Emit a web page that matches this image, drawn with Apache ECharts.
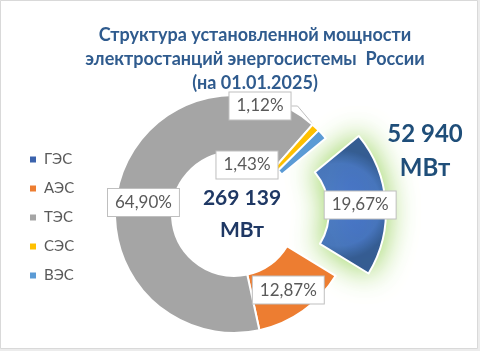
<!DOCTYPE html>
<html>
<head>
<meta charset="utf-8">
<script src="https://cdn.jsdelivr.net/npm/echarts@6/dist/echarts.min.js"></script>
<style>
  html, body { margin: 0; padding: 0; background: #ececec; }
  #main { width: 480px; height: 351px; }
</style>
</head>
<body>
<div id="main"></div>
<script>
// данные диаграммы
const categories = ['ГЭС', 'АЭС', 'ТЭС', 'СЭС', 'ВЭС'];
const shares = [19.67, 12.87, 64.90, 1.12, 1.43];   // доли, %
const colors = ['#4472C4', '#ED7D31', '#A5A5A5', '#FFC000', '#5B9BD5'];
const totalText = ['269 139', 'МВт'];
const gesText = ['52 940', 'МВт'];

const font = 'Lato, "Noto Sans", sans-serif';
const chart = echarts.init(document.getElementById('main'), null, { renderer: 'canvas' });

const pieData = categories.map((name, i) => {
  let item = {
    name: name,
    value: shares[i],
    itemStyle: { color: colors[i] }
  };
  if (i === 0) {
    // ГЭС выдвинут и подсвечен
    item.selected = true;
    item.itemStyle.color = {
      type: 'radial', x: 0.35, y: 0.5, r: 0.75,
      colorStops: [{ offset: 0, color: '#4a78cc' }, { offset: 0.75, color: '#4471c2' }, { offset: 1, color: '#2f5597' }]
    };
    item.itemStyle.shadowBlur = 30;
    item.itemStyle.shadowColor = 'rgba(146, 208, 80, 1)';
  }
  if (i >= 3) {
    item.label = { position: 'outside' };
    item.labelLine = { show: true, length: 6, length2: 6, lineStyle: { color: '#bfbfbf', width: 1 } };
  }
  return item;
});

const option = {
  backgroundColor: '#ececec',
  animation: false,
  graphic: [{
    type: 'rect',
    z: -10,
    silent: true,
    shape: { x: 0.5, y: 0.5, width: 477, height: 348 },
    style: { fill: '#fff', stroke: '#d9d9d9', lineWidth: 1 }
  }],
  title: [
    {
      text: 'Структура установленной мощности\nэлектростанций энергосистемы  России\n(на 01.01.2025)',
      left: 250, top: 18, textAlign: 'center',
      textStyle: { fontFamily: font, fontSize: 18, fontWeight: 'bold', color: '#2F5B8E', lineHeight: 24 }
    },
    {
      text: totalText.join('\n'),
      left: 237, top: 177, textAlign: 'center',
      textStyle: { fontFamily: font, fontSize: 21, fontWeight: 'bold', color: '#1F3864', lineHeight: 32 }
    },
    {
      text: gesText.join('\n'),
      left: 420, top: 112, textAlign: 'center',
      textStyle: { fontFamily: font, fontSize: 24, fontWeight: 'bold', color: '#1F4E79', lineHeight: 34 }
    }
  ],
  legend: {
    orient: 'vertical',
    left: 23, top: 147,
    itemWidth: 8, itemHeight: 8, itemGap: 14,
    icon: 'rect',
    data: categories.map((n, i) => i === 0 ? { name: n, itemStyle: { color: '#3b63ad' } } : n),
    textStyle: { fontFamily: font, fontSize: 15, color: '#595959', padding: [0, 0, 0, 2] }
  },
  series: [{
    type: 'pie',
    center: [234, 214],
    radius: [62, 119],
    startAngle: 39.5,
    clockwise: true,
    selectedMode: 'single',
    selectedOffset: 33,
    avoidLabelOverlap: false,
    itemStyle: { borderColor: '#fff', borderWidth: 2 },
    emphasis: { disabled: true },
    label: {
      show: true,
      position: 'inside',
      formatter: p => p.value.toFixed(2).replace('.', ',') + '%',
      fontFamily: font,
      fontSize: 17,
      color: '#595959',
      backgroundColor: '#fff',
      borderColor: '#bfbfbf',
      borderWidth: 1,
      padding: [5, 7]
    },
    labelLayout: function (params) {
      // подписи малых секторов и ТЭС сдвинуты как в оригинале
      if (params.dataIndex === 2) return { dy: 12 };
      if (params.dataIndex === 3) return { x: 260, y: 106, align: 'center', verticalAlign: 'middle' };
      if (params.dataIndex === 4) return { x: 247, y: 165, align: 'center', verticalAlign: 'middle' };
      return {};
    },
    data: pieData
  }]
};

chart.setOption(option);
</script>
</body>
</html>
